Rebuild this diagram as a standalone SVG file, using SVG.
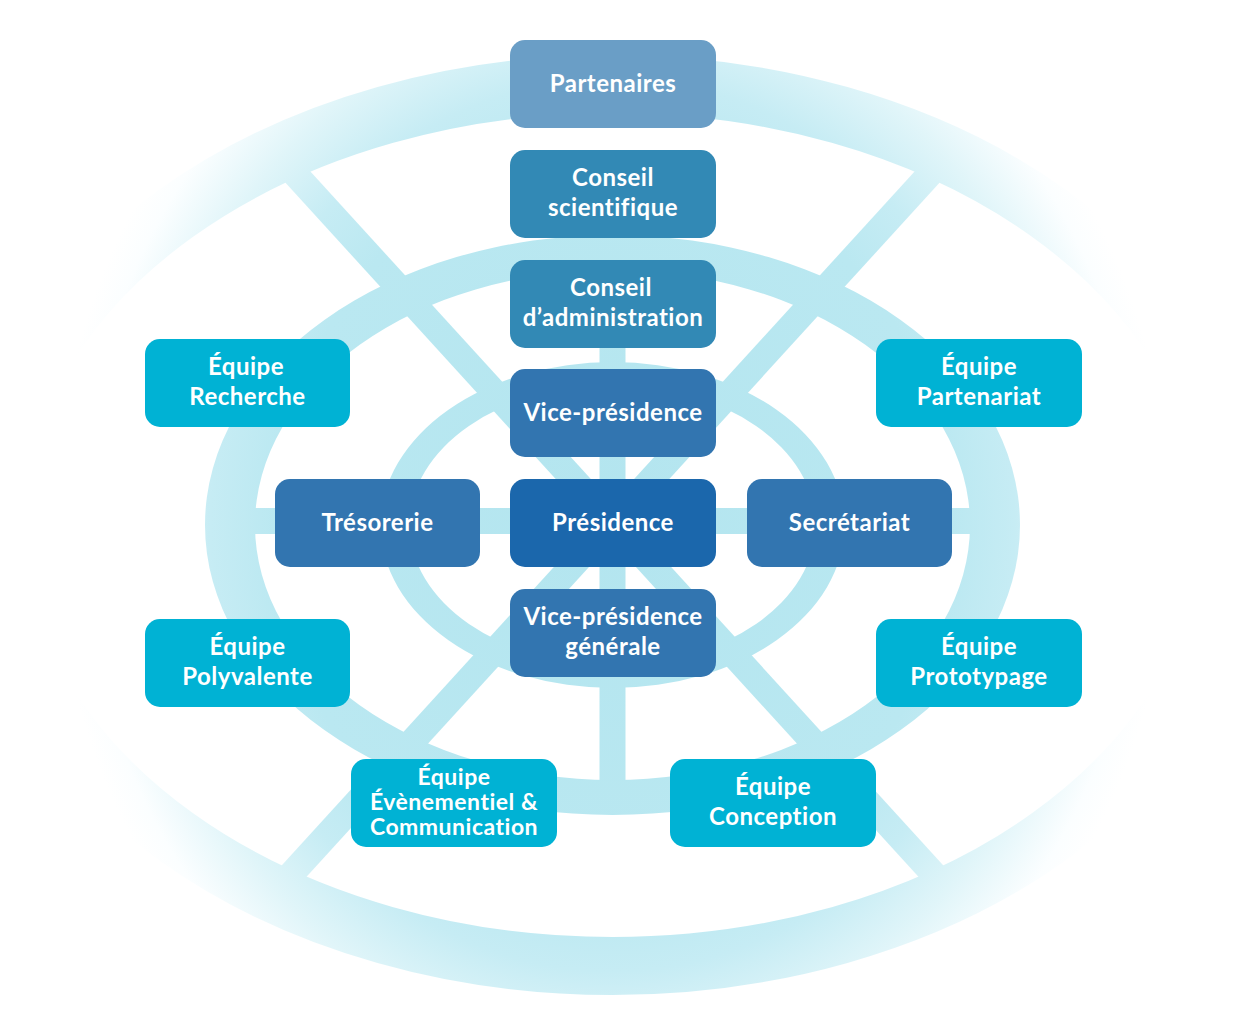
<svg xmlns="http://www.w3.org/2000/svg" width="1240" height="1032" viewBox="0 0 1240 1032">
  <defs>
    <radialGradient id="wheelFade" gradientUnits="userSpaceOnUse" cx="612.5" cy="525" r="620" gradientTransform="translate(612.5 525) scale(0.9 1) translate(-612.5 -525)">
      <stop offset="0" stop-color="#b3e5ef"/>
      <stop offset="0.6" stop-color="#bae8f1"/>
      <stop offset="0.72" stop-color="#c6ecf4"/>
      <stop offset="0.84" stop-color="#e0f5f9"/>
      <stop offset="0.95" stop-color="#fbfeff"/>
      <stop offset="1" stop-color="#ffffff"/>
    </radialGradient>
    <style>
      .ring { fill: url(#wheelFade); fill-rule: evenodd; }
      .spoke { stroke: url(#wheelFade); stroke-width: 26; fill: none; stroke-linecap: butt; }
      .partner { fill: #6a9ec6; }
      .council { fill: #3289b5; }
      .exec { fill: #3275b0; }
      .pres { fill: #1b67ac; }
      .team { fill: #00b2d4; }
      .lbl { font-family: Lato, "Open Sans", "Liberation Sans", sans-serif; font-weight: 700; font-size: 24px; letter-spacing: 0.5px; fill: #ffffff; text-anchor: middle; }
      .small { font-size: 23px; }
    </style>
  </defs>
  <rect x="0" y="0" width="1240" height="1032" fill="#ffffff"/>

  <g id="connectors">
    <line class="spoke" x1="275.5" y1="152.5" x2="949.5" y2="891.5"/>
    <line class="spoke" x1="949.5" y1="152.5" x2="275.5" y2="891.5"/>
    <line class="spoke" x1="230" y1="521" x2="995" y2="521"/>
    <line class="spoke" x1="612.5" y1="250" x2="612.5" y2="800"/>
    <ellipse cx="612.5" cy="525" rx="617" ry="441" fill="none" stroke="url(#wheelFade)" stroke-width="58"/>
    <path class="ring" d="M205,525 a407.5,290 0 1,0 815,0 a407.5,290 0 1,0 -815,0 Z M255,525 a357.5,255 0 1,0 715,0 a357.5,255 0 1,0 -715,0 Z"/>
    <path class="ring" d="M380.5,525 a232,163 0 1,0 464,0 a232,163 0 1,0 -464,0 Z M409.5,525 a203,140 0 1,0 406,0 a203,140 0 1,0 -406,0 Z"/>
  </g>

  <g id="partenaires">
    <rect class="partner" x="510" y="40" width="206" height="88" rx="15"/>
    <text class="lbl" x="613" y="92">Partenaires</text>
  </g>
  <g id="conseil-scientifique">
    <rect class="council" x="510" y="150" width="206" height="88" rx="15"/>
    <text class="lbl" x="613" y="186">Conseil</text>
    <text class="lbl" x="613" y="216">scientifique</text>
  </g>
  <g id="conseil-administration">
    <rect class="council" x="510" y="260" width="206" height="88" rx="15"/>
    <text class="lbl" x="611" y="296">Conseil</text>
    <text class="lbl" x="613" y="326">d’administration</text>
  </g>
  <g id="vice-presidence">
    <rect class="exec" x="510" y="369" width="206" height="88" rx="15"/>
    <text class="lbl" x="613" y="421">Vice-présidence</text>
  </g>
  <g id="presidence">
    <rect class="pres" x="510" y="479" width="206" height="88" rx="15"/>
    <text class="lbl" x="613" y="531">Présidence</text>
  </g>
  <g id="tresorerie">
    <rect class="exec" x="275" y="479" width="205" height="88" rx="15"/>
    <text class="lbl" x="377.5" y="531">Trésorerie</text>
  </g>
  <g id="secretariat">
    <rect class="exec" x="747" y="479" width="205" height="88" rx="15"/>
    <text class="lbl" x="849.5" y="531">Secrétariat</text>
  </g>
  <g id="vice-presidence-generale">
    <rect class="exec" x="510" y="589" width="206" height="88" rx="15"/>
    <text class="lbl" x="613" y="625">Vice-présidence</text>
    <text class="lbl" x="613" y="655">générale</text>
  </g>
  <g id="equipe-recherche">
    <rect class="team" x="145" y="339" width="205" height="88" rx="15"/>
    <text class="lbl" x="246" y="375">Équipe</text>
    <text class="lbl" x="247.5" y="405">Recherche</text>
  </g>
  <g id="equipe-partenariat">
    <rect class="team" x="876" y="339" width="206" height="88" rx="15"/>
    <text class="lbl" x="979" y="375">Équipe</text>
    <text class="lbl" x="979" y="405">Partenariat</text>
  </g>
  <g id="equipe-polyvalente">
    <rect class="team" x="145" y="619" width="205" height="88" rx="15"/>
    <text class="lbl" x="247.5" y="655">Équipe</text>
    <text class="lbl" x="247.5" y="685">Polyvalente</text>
  </g>
  <g id="equipe-prototypage">
    <rect class="team" x="876" y="619" width="206" height="88" rx="15"/>
    <text class="lbl" x="979" y="655">Équipe</text>
    <text class="lbl" x="979" y="685">Prototypage</text>
  </g>
  <g id="equipe-evenementiel-communication">
    <rect class="team" x="351" y="759" width="206" height="88" rx="15"/>
    <text class="lbl small" x="454" y="785">Équipe</text>
    <text class="lbl small" x="454" y="810">Évènementiel &amp;</text>
    <text class="lbl small" x="454" y="835">Communication</text>
  </g>
  <g id="equipe-conception">
    <rect class="team" x="670" y="759" width="206" height="88" rx="15"/>
    <text class="lbl" x="773" y="795">Équipe</text>
    <text class="lbl" x="773" y="825">Conception</text>
  </g>
</svg>
